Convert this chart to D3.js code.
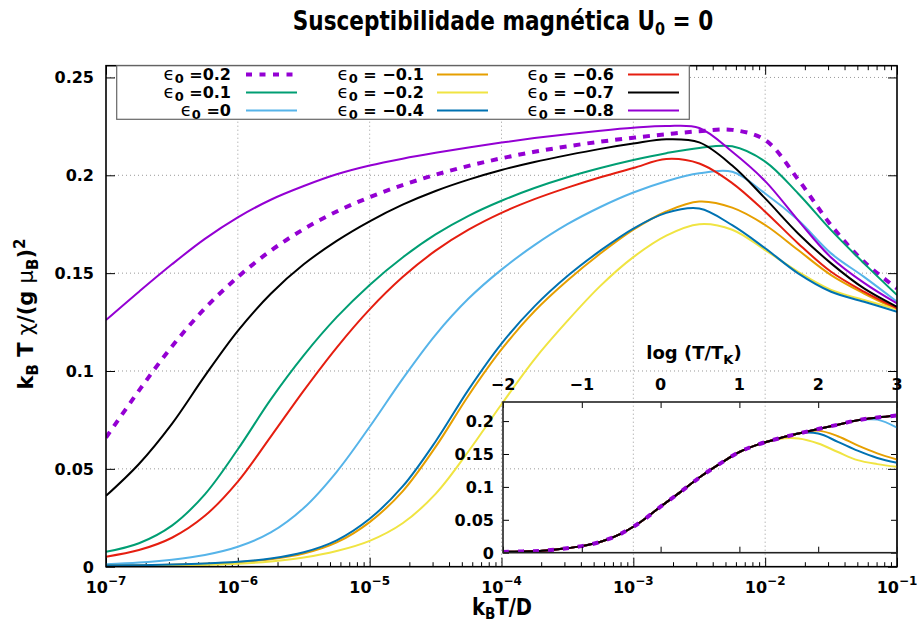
<!DOCTYPE html>
<html>
<head>
<meta charset="utf-8">
<script src="https://cdn.jsdelivr.net/npm/d3@7"></script>
<style>
  body { margin: 0; background: #fff; }
  text { font-family: 'DejaVu Sans', sans-serif; font-weight: bold; fill: #000; }
</style>
</head>
<body>
<svg id="chart" width="917" height="628"></svg>
<script>
// main plot: log10(kB T / D) grid and chi values per epsilon_0
const logT = [-7, -6.75, -6.5, -6.25, -6, -5.75, -5.5, -5.25, -5, -4.75, -4.5, -4.25, -4,
  -3.75, -3.5, -3.25, -3, -2.75, -2.5, -2.25, -2, -1.75, -1.5, -1.25, -1];

const chiP02 = [0.066, 0.090, 0.1125, 0.132, 0.148, 0.1615, 0.1725, 0.1815, 0.1888, 0.1950, 0.2003, 0.2048, 0.2087,
  0.2120, 0.2148, 0.2172, 0.2192, 0.2210, 0.2225, 0.2232, 0.218, 0.1979, 0.1745, 0.1558, 0.1422];
const chiP01 = [0.0076, 0.012, 0.021, 0.037, 0.060, 0.0855, 0.108, 0.1275, 0.1440, 0.1580, 0.1698, 0.1793, 0.1870,
  0.1935, 0.1990, 0.2037, 0.2078, 0.2113, 0.2140, 0.2148, 0.207, 0.1907, 0.1720, 0.1550, 0.1388];
const chi0 = [0.0013, 0.0021, 0.0036, 0.006, 0.0102, 0.0175, 0.030, 0.0485, 0.0715, 0.0960, 0.1185, 0.1370, 0.1518,
  0.1643, 0.1750, 0.1838, 0.1912, 0.1970, 0.2010, 0.2018, 0.1907, 0.1771, 0.1601, 0.1481, 0.1354];
const chiM01 = [0.0005, 0.0007, 0.001, 0.0015, 0.0023, 0.0038, 0.0067, 0.0124, 0.0228, 0.0385, 0.0612, 0.0875, 0.1110,
  0.1305, 0.1462, 0.1600, 0.1722, 0.1815, 0.1866, 0.1835, 0.1746, 0.1618, 0.1490, 0.1396, 0.1315];
const chiM02 = [0.0002, 0.0003, 0.0005, 0.0009, 0.0015, 0.0027, 0.0047, 0.0080, 0.0132, 0.0222, 0.0372, 0.0590, 0.0830,
  0.1060, 0.1256, 0.1435, 0.1582, 0.1692, 0.1750, 0.1722, 0.1618, 0.1507, 0.1414, 0.1363, 0.1315];
const chiM04 = [0.0006, 0.0008, 0.0011, 0.0016, 0.0025, 0.0042, 0.0074, 0.0135, 0.0245, 0.0410, 0.0640, 0.0905, 0.1140,
  0.1330, 0.1485, 0.1615, 0.1728, 0.1808, 0.1830, 0.1745, 0.1627, 0.1499, 0.1405, 0.1354, 0.1303];
const chiM06 = [0.0051, 0.0085, 0.0148, 0.026, 0.0435, 0.0665, 0.090, 0.112, 0.1315, 0.1480, 0.1615, 0.1722, 0.1808,
  0.1878, 0.1937, 0.1990, 0.2037, 0.2083, 0.2060, 0.196, 0.1814, 0.1652, 0.1507, 0.1405, 0.1320];
const chiM07 = [0.0362, 0.0525, 0.073, 0.0975, 0.1205, 0.1395, 0.1545, 0.1665, 0.1765, 0.1850, 0.1920, 0.1978, 0.2027,
  0.2068, 0.2103, 0.2135, 0.2162, 0.2184, 0.2168, 0.205, 0.1882, 0.1703, 0.1550, 0.1422, 0.1328];
const chiM08 = [0.126, 0.1405, 0.1545, 0.1675, 0.1785, 0.1875, 0.1945, 0.2005, 0.2050, 0.2085, 0.2115, 0.2142, 0.2167,
  0.2190, 0.2210, 0.2228, 0.2243, 0.2252, 0.2242, 0.212, 0.197, 0.177, 0.158, 0.145, 0.1345];

// inset: log(T/T_K) grid
const logTK = [-2, -1.75, -1.5, -1.25, -1, -0.75, -0.5, -0.25, 0, 0.25, 0.5, 0.75, 1, 1.25, 1.5, 1.75, 2, 2.25, 2.5, 2.75, 3];
const insetUniv = [0.001, 0.002, 0.003, 0.006, 0.010, 0.017, 0.029, 0.047, 0.070, 0.092, 0.115, 0.135, 0.153,
  0.165, 0.1736, 0.181, 0.188, 0.1945, 0.2014, 0.2054, 0.2085];
const insetEps0 = [0.001, 0.002, 0.003, 0.006, 0.010, 0.017, 0.029, 0.047, 0.070, 0.092, 0.115, 0.135, 0.153,
  0.165, 0.1736, 0.181, 0.188, 0.1945, 0.2014, 0.2022, 0.190];
const insetEpsM01 = [0.001, 0.002, 0.003, 0.006, 0.010, 0.017, 0.029, 0.047, 0.070, 0.092, 0.115, 0.135, 0.153,
  0.165, 0.1736, 0.181, 0.1855, 0.177, 0.163, 0.151, 0.1417];
const insetEpsM02 = [0.001, 0.002, 0.003, 0.006, 0.010, 0.017, 0.029, 0.047, 0.070, 0.092, 0.115, 0.135, 0.153,
  0.165, 0.1728, 0.1735, 0.166, 0.153, 0.1407, 0.1346, 0.1305];
const insetEpsM04 = [0.001, 0.002, 0.003, 0.006, 0.010, 0.017, 0.029, 0.047, 0.070, 0.092, 0.115, 0.135, 0.153,
  0.165, 0.173, 0.1815, 0.181, 0.1685, 0.155, 0.144, 0.1366];

const yTicks = [0, 0.05, 0.1, 0.15, 0.2, 0.25];
const insetYTicks = [0, 0.05, 0.1, 0.15, 0.2];
const insetXTicks = [-2, -1, 0, 1, 2, 3];

const series = [
  { eps: '0.2', values: chiP02, inset: insetUniv, color: '#9400d3', dashed: true },
  { eps: '0.1', values: chiP01, inset: insetUniv, color: '#009e73' },
  { eps: '0', values: chi0, inset: insetEps0, color: '#56b4e9' },
  { eps: ' −0.1', values: chiM01, inset: insetEpsM01, color: '#e69f00' },
  { eps: ' −0.2', values: chiM02, inset: insetEpsM02, color: '#f0e442' },
  { eps: ' −0.4', values: chiM04, inset: insetEpsM04, color: '#0072b2' },
  { eps: ' −0.6', values: chiM06, inset: insetUniv, color: '#e51e10' },
  { eps: ' −0.7', values: chiM07, inset: insetUniv, color: '#000000' },
  { eps: ' −0.8', values: chiM08, inset: insetUniv, color: '#9400d3' }
];

const svg = d3.select('#chart');
const plot = { left: 106, right: 897, top: 65.7, bottom: 566.7 };

const x = d3.scaleLog().domain([1e-7, 1e-1]).range([plot.left, plot.right]);
const y = d3.scaleLinear().domain([0, 0.256]).range([plot.bottom, plot.top]);

// write text made of parts with sub/superscripts
function rich(sel, parts) {
  let shift = 0;
  parts.forEach(p => {
    const target = p.sub ? (p.dy || 5) : p.sup ? -8 : 0;
    const t = sel.append('tspan').attr('dy', target - shift).text(p.t);
    shift = target;
    if (p.size) t.attr('font-size', p.size);
    if (p.normal) t.attr('font-weight', 'normal');
  });
}

svg.append('defs').append('clipPath').attr('id', 'clipMain')
  .append('rect').attr('x', plot.left).attr('y', plot.top)
  .attr('width', plot.right - plot.left).attr('height', plot.bottom - plot.top);

// grid
const grid = svg.append('g').attr('stroke', '#999').attr('stroke-width', 1).attr('stroke-dasharray', '1,3');
[1e-6, 1e-5, 1e-4, 1e-3, 1e-2].forEach(v => {
  grid.append('line').attr('x1', x(v)).attr('x2', x(v)).attr('y1', plot.top).attr('y2', plot.bottom);
});
yTicks.filter(v => v > 0).forEach(v => {
  grid.append('line').attr('x1', plot.left).attr('x2', plot.right).attr('y1', y(v)).attr('y2', y(v));
});

// axes with inward ticks
const majors = [1e-7, 1e-6, 1e-5, 1e-4, 1e-3, 1e-2, 1e-1];
const minors = x.ticks().filter(v => !majors.some(m => Math.abs(v / m - 1) < 1e-6));
function tickAxis(axis, tr) {
  const g = svg.append('g').attr('transform', tr).call(axis);
  g.select('.domain').remove();
  g.selectAll('line').attr('stroke', '#000').attr('stroke-width', 1);
  g.selectAll('text').remove();
}
tickAxis(d3.axisBottom(x).tickValues(majors).tickSize(-9), `translate(0,${plot.bottom})`);
tickAxis(d3.axisBottom(x).tickValues(minors).tickSize(-4.5), `translate(0,${plot.bottom})`);
tickAxis(d3.axisTop(x).tickValues(majors).tickSize(-9), `translate(0,${plot.top})`);
tickAxis(d3.axisTop(x).tickValues(minors).tickSize(-4.5), `translate(0,${plot.top})`);
tickAxis(d3.axisLeft(y).tickValues(yTicks).tickSize(-9), `translate(${plot.left},0)`);
tickAxis(d3.axisRight(y).tickValues(yTicks).tickSize(-9), `translate(${plot.right},0)`);

// y tick labels
yTicks.forEach(v => {
  svg.append('text').attr('x', plot.left - 12).attr('y', y(v) + 6)
    .attr('text-anchor', 'end').attr('font-size', 16).text(d3.format('~g')(v));
});
// x tick labels 10^n
majors.forEach(v => {
  const t = svg.append('text').attr('x', x(v)).attr('y', 593)
    .attr('text-anchor', 'middle').attr('font-size', 16);
  rich(t, [{ t: '10' }, { t: '−' + Math.round(-Math.log10(v)), sup: true, size: 12 }]);
});

// curves
const line = d3.line()
  .x((d, i) => x(Math.pow(10, logT[i])))
  .y(d => y(d))
  .curve(d3.curveCatmullRom.alpha(0.5));
const curves = svg.append('g').attr('clip-path', 'url(#clipMain)');
series.forEach(s => {
  curves.append('path').datum(s.values)
    .attr('fill', 'none').attr('stroke', s.color)
    .attr('stroke-width', s.dashed ? 4 : 2)
    .attr('stroke-dasharray', s.dashed ? '7,7' : null)
    .attr('d', line);
});

// frame
svg.append('rect').attr('x', plot.left).attr('y', plot.top)
  .attr('width', plot.right - plot.left).attr('height', plot.bottom - plot.top)
  .attr('fill', 'none').attr('stroke', '#000').attr('stroke-width', 1.6);

// title and axis labels (squeezed horizontally to look condensed)
const title = svg.append('text').attr('transform', 'translate(503,30) scale(0.8,1)')
  .attr('text-anchor', 'middle').attr('font-size', 27);
rich(title, [{ t: 'Susceptibilidade magnética U' }, { t: '0', sub: true, size: 18 }, { t: ' = 0' }]);

const xl = svg.append('text').attr('transform', 'translate(502,615) scale(0.85,1)')
  .attr('text-anchor', 'middle').attr('font-size', 23);
rich(xl, [{ t: 'k' }, { t: 'B', sub: true, dy: 4, size: 16 }, { t: 'T/D' }]);

const yl = svg.append('text').attr('transform', 'translate(33,314) rotate(-90)')
  .attr('text-anchor', 'middle').attr('font-size', 21);
rich(yl, [{ t: 'k' }, { t: 'B', sub: true, size: 15 }, { t: ' T ' }, { t: 'χ', normal: true }, { t: '/(g ' },
  { t: 'μ', normal: true }, { t: 'B', sub: true, size: 15 }, { t: ')' }, { t: '2', sup: true, size: 15 }]);

// legend
const leg = { left: 116.7, top: 65.7, right: 689.3, bottom: 119.3 };
svg.append('rect').attr('x', leg.left).attr('y', leg.top)
  .attr('width', leg.right - leg.left).attr('height', leg.bottom - leg.top)
  .attr('fill', '#fff').attr('stroke', '#666').attr('stroke-width', 1.2);
const legCols = [{ textEnd: 231, s0: 246, s1: 297 }, { textEnd: 424, s0: 437, s1: 488 }, { textEnd: 614, s0: 628, s1: 679 }];
const legRows = [74.5, 92.5, 110.5];
series.forEach((s, i) => {
  const c = legCols[Math.floor(i / 3)], r = legRows[i % 3];
  const t = svg.append('text').attr('x', c.textEnd).attr('y', r + 5)
    .attr('text-anchor', 'end').attr('font-size', 16);
  rich(t, [{ t: 'ϵ', normal: true, size: 18 }, { t: '0', sub: true, dy: 3, size: 13 }, { t: ' =' + s.eps }]);
  svg.append('line').attr('x1', c.s0).attr('x2', c.s1).attr('y1', r).attr('y2', r)
    .attr('stroke', s.color).attr('stroke-width', s.dashed ? 4 : 2)
    .attr('stroke-dasharray', s.dashed ? '6,7.5' : null);
});

// inset
const ins = { left: 503, right: 897, top: 402, bottom: 552.7 };
const ix = d3.scaleLinear().domain([-2, 3]).range([ins.left, ins.right]);
const iy = d3.scaleLinear().domain([0, 0.229]).range([ins.bottom, ins.top]);
svg.select('defs').append('clipPath').attr('id', 'clipInset')
  .append('rect').attr('x', ins.left).attr('y', ins.top)
  .attr('width', ins.right - ins.left).attr('height', ins.bottom - ins.top);

const iline = d3.line()
  .x((d, i) => ix(logTK[i]))
  .y(d => iy(d))
  .curve(d3.curveCatmullRom.alpha(0.5));
const insetOrder = [2, 3, 5, 4, 1, 8, 6, 7, 0];
const icurves = svg.append('g').attr('clip-path', 'url(#clipInset)');
insetOrder.forEach(k => {
  const s = series[k];
  icurves.append('path').datum(s.inset)
    .attr('fill', 'none').attr('stroke', s.color)
    .attr('stroke-width', s.dashed ? 4 : 2)
    .attr('stroke-dasharray', s.dashed ? '6,9' : null)
    .attr('d', iline);
});

tickAxis(d3.axisTop(ix).tickValues(insetXTicks).tickSize(-6), `translate(0,${ins.top})`);
tickAxis(d3.axisBottom(ix).tickValues(insetXTicks).tickSize(-6), `translate(0,${ins.bottom})`);
tickAxis(d3.axisLeft(iy).tickValues(insetYTicks).tickSize(-6), `translate(${ins.left},0)`);
tickAxis(d3.axisRight(iy).tickValues(insetYTicks).tickSize(-6), `translate(${ins.right},0)`);

svg.append('rect').attr('x', ins.left).attr('y', ins.top)
  .attr('width', ins.right - ins.left).attr('height', ins.bottom - ins.top)
  .attr('fill', 'none').attr('stroke', '#222').attr('stroke-width', 1.6);

insetYTicks.forEach(v => {
  svg.append('text').attr('x', ins.left - 9).attr('y', iy(v) + 6)
    .attr('text-anchor', 'end').attr('font-size', 16).text(d3.format('~g')(v));
});
insetXTicks.forEach(v => {
  svg.append('text').attr('x', ix(v)).attr('y', 390)
    .attr('text-anchor', 'middle').attr('font-size', 16).text(v < 0 ? '−' + (-v) : String(v));
});
const il = svg.append('text').attr('x', 694).attr('y', 359)
  .attr('text-anchor', 'middle').attr('font-size', 18);
rich(il, [{ t: 'log (T/T' }, { t: 'K', sub: true, size: 13 }, { t: ')' }]);
</script>
</body>
</html>
